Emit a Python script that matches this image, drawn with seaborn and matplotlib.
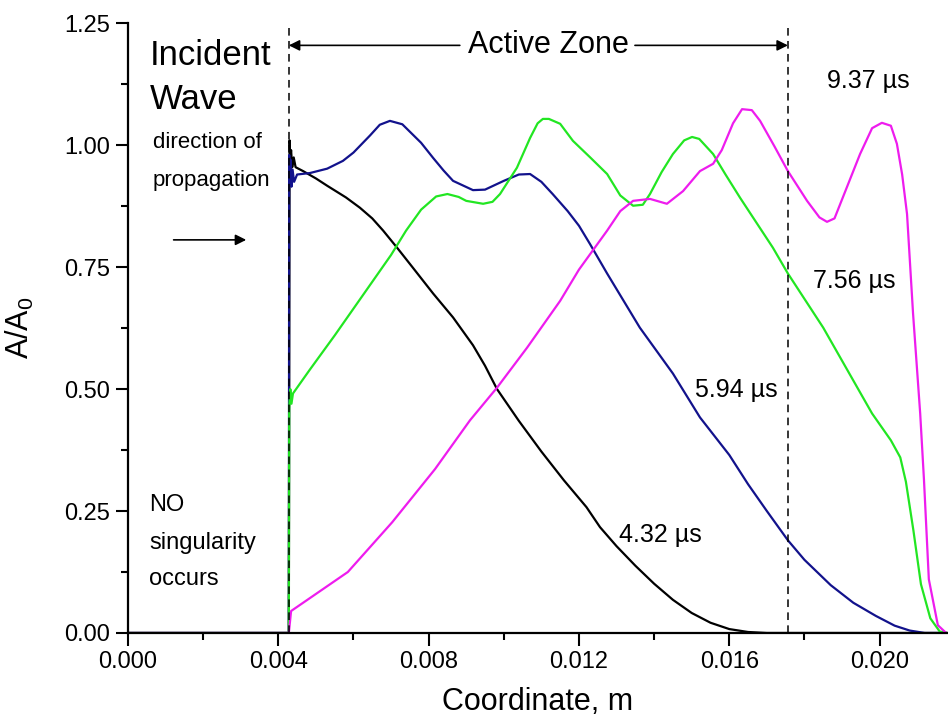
import numpy as np
import pandas as pd
import matplotlib
matplotlib.use("Agg")
import matplotlib.pyplot as plt
from matplotlib.ticker import MultipleLocator, FormatStrFormatter
import seaborn as sns

# -----------------------------
# Data
# -----------------------------
x_432 = [0.0, 0.00428, 0.00430, 0.00432, 0.00434, 0.00437, 0.00441, 0.00446,
         0.00466, 0.00500, 0.00530, 0.00580, 0.00617, 0.00650, 0.00679, 0.00716,
         0.00758, 0.00812, 0.00865, 0.00918, 0.0095, 0.00982, 0.0104, 0.0110,
         0.0116, 0.0122, 0.01256, 0.0130, 0.0135, 0.0140, 0.0145, 0.0150,
         0.0155, 0.0160, 0.0165, 0.0170, 0.0218]
y_432 = [0.0, 0.0, 1.01, 0.97, 0.99, 0.955, 0.975, 0.955,
         0.947, 0.932, 0.917, 0.893, 0.872, 0.850, 0.825, 0.790,
         0.749, 0.696, 0.647, 0.590, 0.548, 0.500, 0.435, 0.372,
         0.313, 0.258, 0.217, 0.178, 0.138, 0.101, 0.068, 0.041,
         0.021, 0.008, 0.002, 0.0, 0.0]

x_594 = [0.0, 0.00428, 0.00429, 0.00431, 0.00433, 0.00435, 0.00438, 0.00442,
         0.00450, 0.00484, 0.00530, 0.00572, 0.0060, 0.00644, 0.0067, 0.00697,
         0.0073, 0.0078, 0.00812, 0.0084, 0.00865, 0.00918, 0.0095, 0.0100,
         0.0104, 0.0107, 0.0110, 0.0113, 0.0117, 0.0120, 0.01229, 0.01275,
         0.01362, 0.0145, 0.01522, 0.0160, 0.0165, 0.0170, 0.01756, 0.0180,
         0.0187, 0.0193, 0.0199, 0.0204, 0.0208, 0.0212, 0.0218]
y_594 = [0.0, 0.0, 0.98, 0.92, 0.97, 0.915, 0.95, 0.925,
         0.94, 0.943, 0.952, 0.968, 0.985, 1.02, 1.042, 1.05,
         1.043, 1.005, 0.974, 0.948, 0.927, 0.908, 0.909, 0.927,
         0.940, 0.941, 0.925, 0.900, 0.865, 0.835, 0.798, 0.737,
         0.626, 0.532, 0.442, 0.365, 0.305, 0.25, 0.19, 0.15,
         0.098, 0.062, 0.035, 0.015, 0.005, 0.0, 0.0]

x_756 = [0.0, 0.00428, 0.00429, 0.00432, 0.00435, 0.00439, 0.00484, 0.0055,
         0.0060, 0.0065, 0.0070, 0.0074, 0.0078, 0.0082, 0.0085, 0.0088,
         0.0090, 0.00945, 0.0097, 0.0099, 0.01035, 0.0107, 0.0109, 0.01104,
         0.0112, 0.0115, 0.01184, 0.01230, 0.01275, 0.0131, 0.01344, 0.0137,
         0.01389, 0.0142, 0.0145, 0.0148, 0.01501, 0.0152, 0.01557, 0.0159,
         0.01629, 0.01716, 0.01756, 0.0185, 0.0198, 0.0203, 0.02055, 0.0207,
         0.0209, 0.0211, 0.02135, 0.0216, 0.0218]
y_756 = [0.0, 0.0, 0.46, 0.50, 0.47, 0.491, 0.54, 0.61,
         0.665, 0.72, 0.775, 0.825, 0.868, 0.895, 0.900, 0.894,
         0.886, 0.880, 0.884, 0.900, 0.954, 1.015, 1.045, 1.054,
         1.054, 1.044, 1.009, 0.975, 0.941, 0.897, 0.876, 0.878,
         0.900, 0.945, 0.982, 1.010, 1.017, 1.013, 0.982, 0.940,
         0.892, 0.790, 0.737, 0.626, 0.45, 0.395, 0.36, 0.31,
         0.21, 0.10, 0.03, 0.003, 0.0]

x_937 = [0.0, 0.00428, 0.00434, 0.00468, 0.00585, 0.00703, 0.00817, 0.0091,
         0.00982, 0.01062, 0.0115, 0.0120, 0.01275, 0.0131, 0.01344, 0.01389,
         0.01434, 0.01477, 0.01522, 0.01557, 0.0158, 0.0161, 0.01634, 0.0166,
         0.01682, 0.0172, 0.01756, 0.01807, 0.0184, 0.0186, 0.0188, 0.01948,
         0.0198, 0.02006, 0.0203, 0.02046, 0.0206, 0.02073, 0.02089, 0.02108,
         0.02118, 0.02131, 0.02155, 0.02177]
y_937 = [0.0, 0.0, 0.045, 0.063, 0.125, 0.227, 0.336, 0.436,
         0.503, 0.585, 0.681, 0.745, 0.825, 0.865, 0.886, 0.89,
         0.88, 0.906, 0.947, 0.962, 0.99, 1.045, 1.074, 1.072,
         1.05, 0.998, 0.947, 0.886, 0.852, 0.843, 0.850, 0.982,
         1.035, 1.046, 1.040, 1.003, 0.940, 0.859, 0.655, 0.45,
         0.315, 0.11, 0.016, 0.0]

times = ["4.32", "5.94", "7.56", "9.37"]
colors = ["#000000", "#12128c", "#22e622", "#ee1cee"]

# dashed lines that bound the active zone
zone_x = [0.00428, 0.01756]

# -----------------------------
# Style
# -----------------------------
sns.set_style("ticks")
plt.rcParams["font.family"] = ["Liberation Sans", "DejaVu Sans"]
plt.rcParams["mathtext.fontset"] = "custom"
plt.rcParams["mathtext.rm"] = "Liberation Sans"
plt.rcParams["mathtext.it"] = "Liberation Sans"
plt.rcParams["text.color"] = "black"
plt.rcParams["axes.labelcolor"] = "black"
plt.rcParams["axes.edgecolor"] = "black"
plt.rcParams["xtick.color"] = "black"
plt.rcParams["ytick.color"] = "black"

df = pd.concat([
    pd.DataFrame({"x": x_432, "y": y_432, "t": times[0]}),
    pd.DataFrame({"x": x_594, "y": y_594, "t": times[1]}),
    pd.DataFrame({"x": x_756, "y": y_756, "t": times[2]}),
    pd.DataFrame({"x": x_937, "y": y_937, "t": times[3]}),
], ignore_index=True)

fig = plt.figure(figsize=(9.48, 7.22), dpi=100)
ax = fig.add_axes([0.135, 0.1233, 0.865, 0.8444])

sns.lineplot(data=df, x="x", y="y", hue="t", palette=dict(zip(times, colors)),
             estimator=None, sort=False, legend=False, linewidth=1.6, ax=ax)

for zx in zone_x:
    ax.axvline(zx, color="black", linestyle=(0, (5, 3.5)), linewidth=1.1)

ax.set_xlim(0, 0.02182)
ax.set_ylim(0, 1.25)
ax.xaxis.set_major_locator(MultipleLocator(0.004))
ax.xaxis.set_minor_locator(MultipleLocator(0.002))
ax.yaxis.set_major_locator(MultipleLocator(0.25))
ax.yaxis.set_minor_locator(MultipleLocator(0.125))
ax.xaxis.set_major_formatter(FormatStrFormatter("%.3f"))
ax.yaxis.set_major_formatter(FormatStrFormatter("%.2f"))
ax.tick_params(which="major", direction="out", length=9, width=1.5, labelsize=17, pad=4)
ax.tick_params(which="minor", direction="out", length=5, width=1.5)
sns.despine(ax=ax)
for s in ["left", "bottom"]:
    ax.spines[s].set_linewidth(1.6)

ax.set_xlabel("Coordinate, m", fontsize=22, labelpad=10)
ax.set_ylabel("A/A$_0$", fontsize=22, labelpad=20)

# -----------------------------
# Annotations
# -----------------------------
ax.text(0.000585, 1.164, "Incident", fontsize=25)
ax.text(0.000585, 1.074, "Wave", fontsize=25)
ax.text(0.000665, 0.994, "direction of", fontsize=16)
ax.text(0.000665, 0.917, "propagation", fontsize=16)
ax.annotate("", xy=(0.00322, 0.806), xytext=(0.00114, 0.806),
            arrowprops=dict(arrowstyle="-|>", color="black", lw=1.2, mutation_scale=16))

ax.text(0.00056, 0.2496, "NO", fontsize=17)
ax.text(0.00056, 0.172, "singularity", fontsize=17)
ax.text(0.00056, 0.098, "occurs", fontsize=17)

ax.text(0.0112, 1.2048, "Active Zone", fontsize=22, ha="center", va="center")
ax.annotate("", xy=(zone_x[0], 1.2048), xytext=(0.00883, 1.2048),
            arrowprops=dict(arrowstyle="-|>", color="black", lw=1.2, mutation_scale=16,
                            shrinkA=0, shrinkB=0))
ax.annotate("", xy=(zone_x[1], 1.2048), xytext=(0.01349, 1.2048),
            arrowprops=dict(arrowstyle="-|>", color="black", lw=1.2, mutation_scale=16,
                            shrinkA=0, shrinkB=0))

ax.text(0.01307, 0.186, "4.32 µs", fontsize=18)
ax.text(0.01509, 0.483, "5.94 µs", fontsize=18)
ax.text(0.01823, 0.708, "7.56 µs", fontsize=18)
ax.text(0.0186, 1.117, "9.37 µs", fontsize=18)

fig.savefig("out.png", dpi=100)
